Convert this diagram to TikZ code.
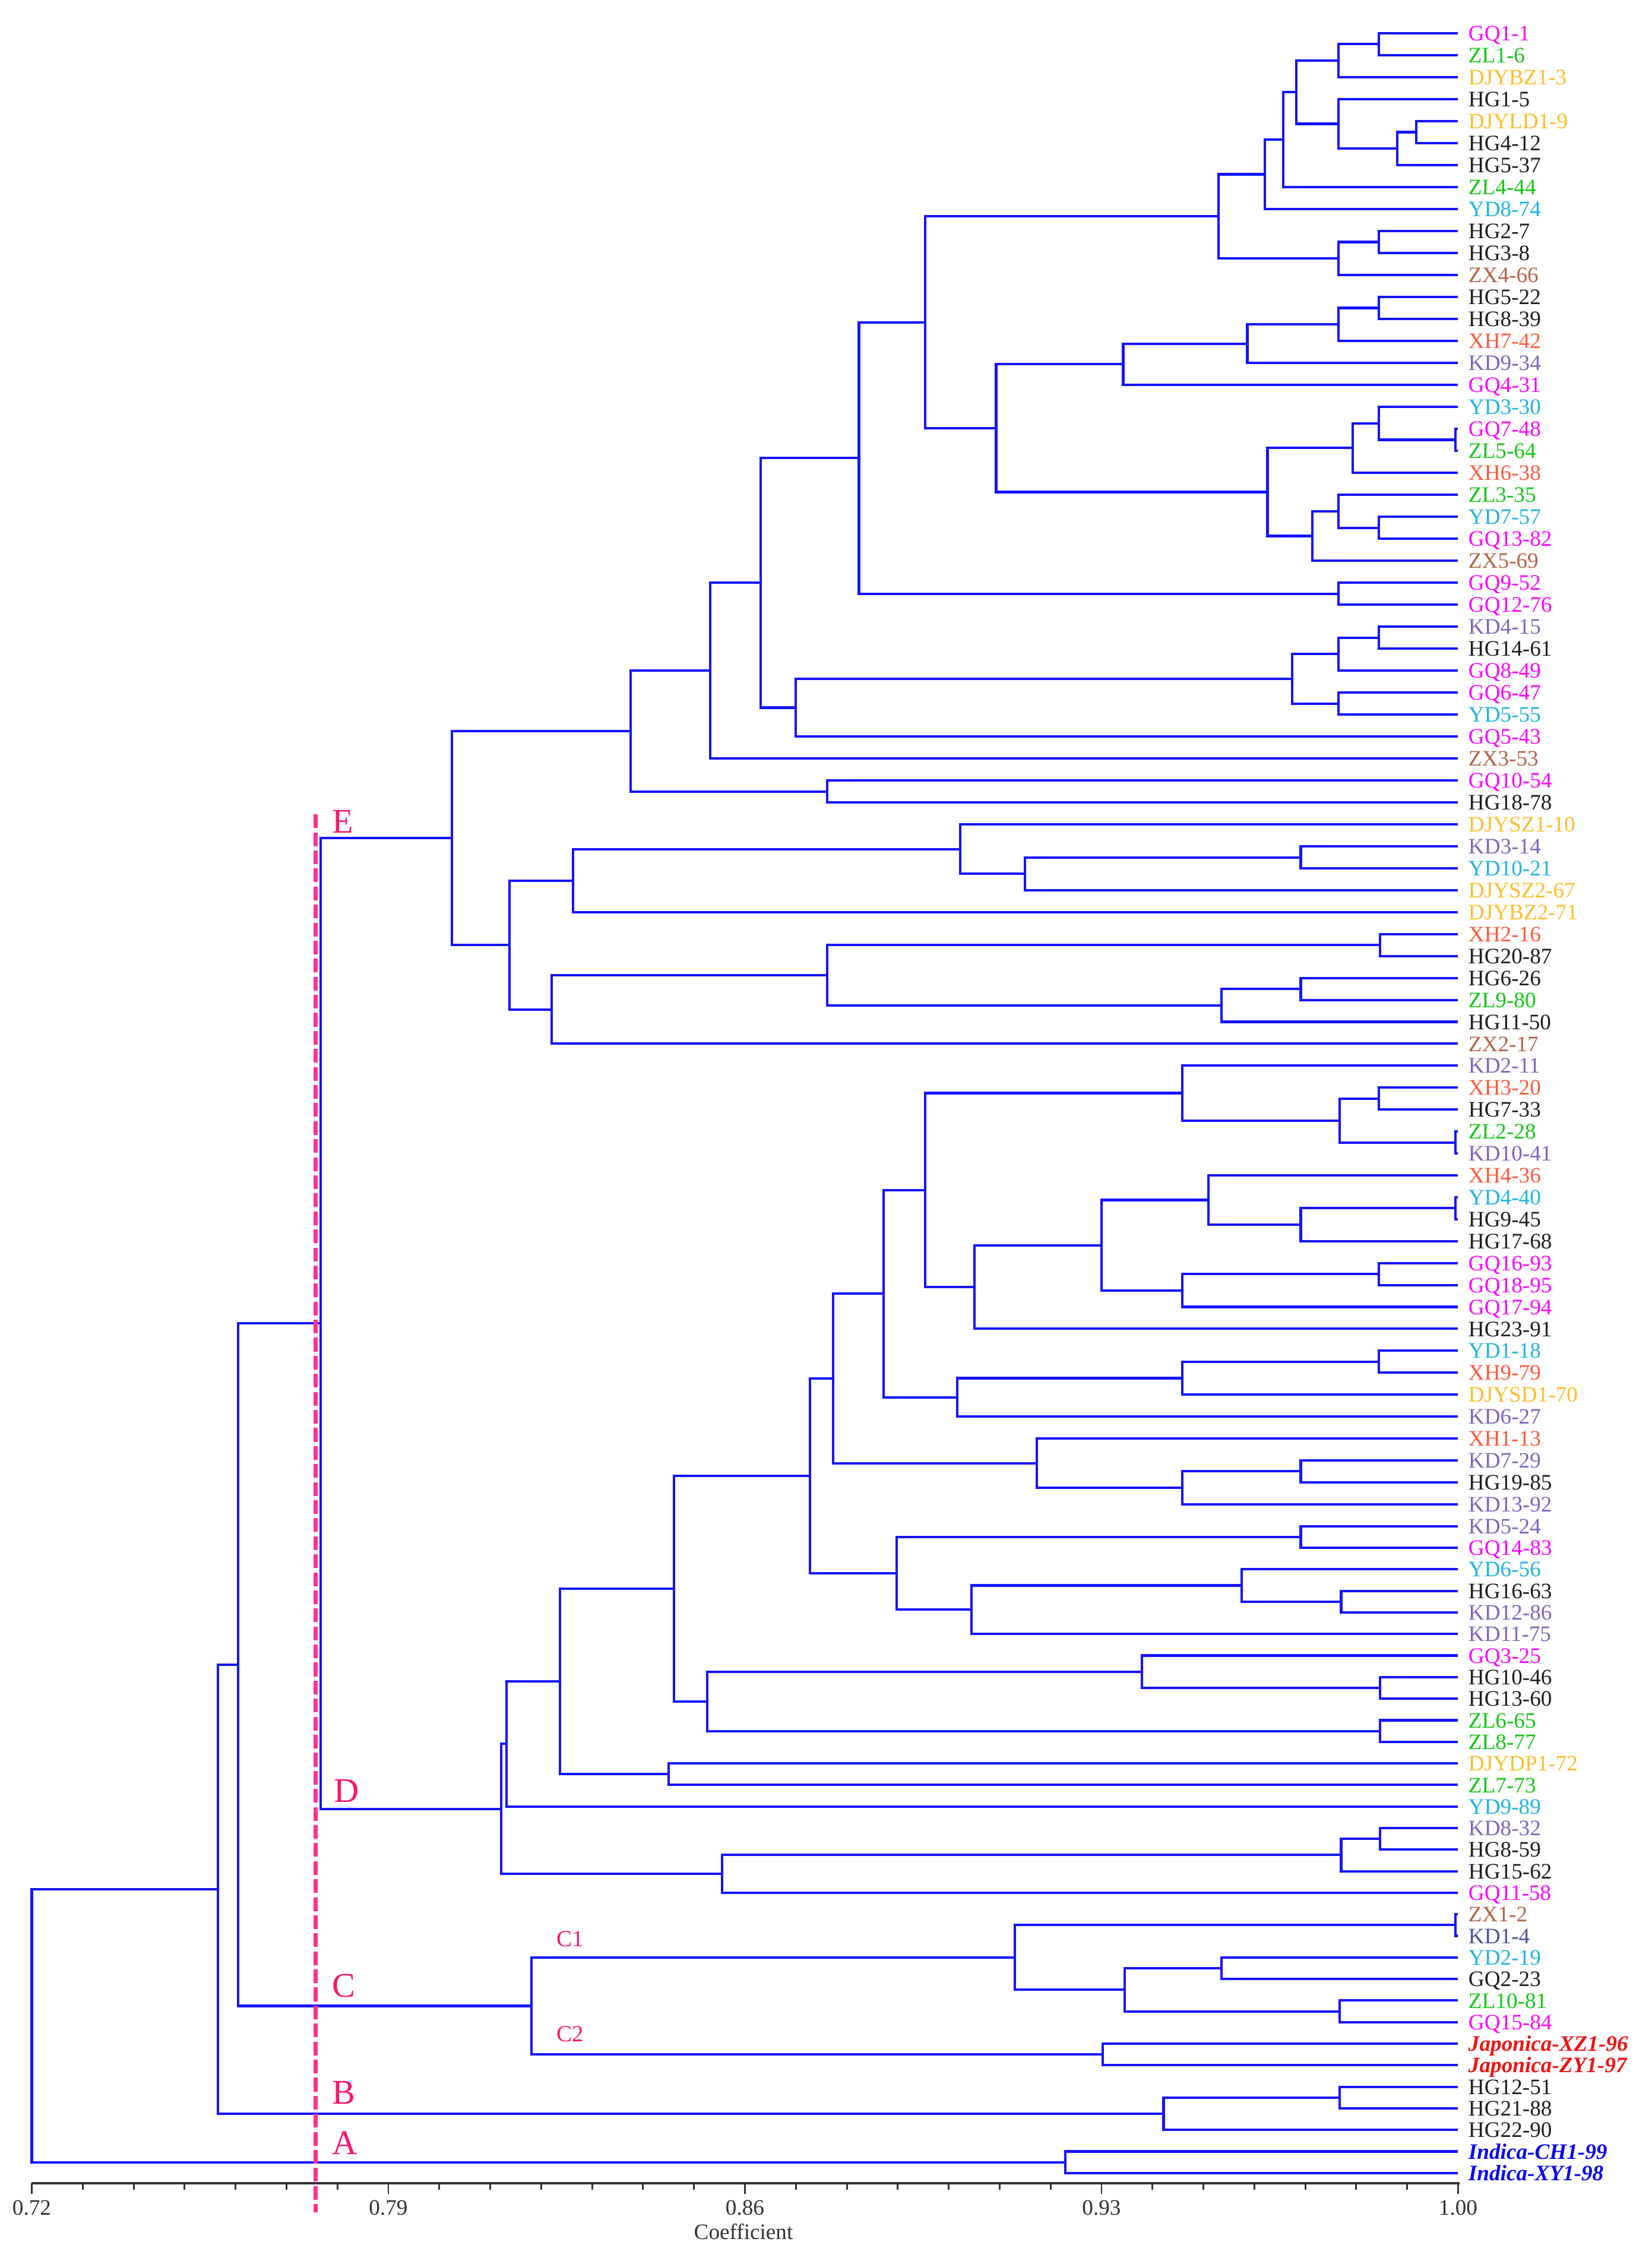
\documentclass[tikz,border=0pt]{standalone}
\usepackage{fontspec}
\setmainfont{Liberation Serif}
\usetikzlibrary{calc}
\definecolor{treeblue}{RGB}{20,20,255}
\definecolor{cmag}{RGB}{255,0,255}
\definecolor{cgrn}{RGB}{20,200,20}
\definecolor{corg}{RGB}{255,190,40}
\definecolor{ccyn}{RGB}{30,180,230}
\definecolor{cbrn}{RGB}{180,100,75}
\definecolor{ccrl}{RGB}{255,90,60}
\definecolor{cpur}{RGB}{128,100,190}
\definecolor{cpurd}{RGB}{80,80,160}
\definecolor{cblk}{RGB}{30,30,30}
\definecolor{cjap}{RGB}{240,20,20}
\definecolor{cind}{RGB}{10,10,240}
\definecolor{cpink}{RGB}{255,20,110}
\definecolor{cdash}{RGB}{255,50,140}
\definecolor{caxis}{RGB}{50,50,50}
\newcommand\jn[4]{%
  \path let \p1=($(#3)!0.5!(#4)$) in coordinate (#1) at (#2pt,\y1);
  \draw[br] (#1) |- (#3);
  \draw[br] (#1) |- (#4);}
\begin{document}
\begin{tikzpicture}[x=1pt,y=-1pt,
  br/.style={draw=treeblue,line width=1.7pt},
  leaflab/.style={anchor=base west,inner sep=0pt,yshift=-5.2pt,font=\fontsize{15.3}{16}\selectfont},
  mag/.style={text=cmag}, grn/.style={text=cgrn}, org/.style={text=corg},
  cyn/.style={text=ccyn}, brn/.style={text=cbrn}, crl/.style={text=ccrl},
  pur/.style={text=cpur}, purd/.style={text=cpurd}, blk/.style={text=cblk},
  jap/.style={text=cjap,font=\fontsize{15.3}{16}\selectfont\bfseries\itshape},
  ind/.style={text=cind,font=\fontsize{15.3}{16}\selectfont\bfseries\itshape},
  clab/.style={text=cpink,anchor=base west,inner sep=0pt,font=\fontsize{24}{26}\selectfont},
  sublab/.style={text=cpink,anchor=base west,inner sep=0pt,font=\fontsize{16}{18}\selectfont},
  ticklab/.style={text=caxis,anchor=base,inner sep=0pt,font=\fontsize{15.3}{16}\selectfont},
  dashline/.style={draw=cdash,line width=3pt,dash pattern=on 9.5pt off 3pt}
]
\fill[white] (0,0) rectangle (1144,1568);
\useasboundingbox (0,0) rectangle (1144,1568);

% leaves
\foreach \lab/\sty [count=\i] in {
GQ1-1/mag, ZL1-6/grn, DJYBZ1-3/org, HG1-5/blk, DJYLD1-9/org, HG4-12/blk, HG5-37/blk,
ZL4-44/grn, YD8-74/cyn, HG2-7/blk, HG3-8/blk, ZX4-66/brn, HG5-22/blk, HG8-39/blk,
XH7-42/crl, KD9-34/pur, GQ4-31/mag, YD3-30/cyn, GQ7-48/mag, ZL5-64/grn, XH6-38/crl,
ZL3-35/grn, YD7-57/cyn, GQ13-82/mag, ZX5-69/brn, GQ9-52/mag, GQ12-76/mag, KD4-15/pur,
HG14-61/blk, GQ8-49/mag, GQ6-47/mag, YD5-55/cyn, GQ5-43/mag, ZX3-53/brn, GQ10-54/mag,
HG18-78/blk, DJYSZ1-10/org, KD3-14/pur, YD10-21/cyn, DJYSZ2-67/org, DJYBZ2-71/org,
XH2-16/crl, HG20-87/blk, HG6-26/blk, ZL9-80/grn, HG11-50/blk, ZX2-17/brn, KD2-11/pur,
XH3-20/crl, HG7-33/blk, ZL2-28/grn, KD10-41/pur, XH4-36/crl, YD4-40/cyn, HG9-45/blk,
HG17-68/blk, GQ16-93/mag, GQ18-95/mag, GQ17-94/mag, HG23-91/blk, YD1-18/cyn, XH9-79/crl,
DJYSD1-70/org, KD6-27/pur, XH1-13/crl, KD7-29/pur, HG19-85/blk, KD13-92/pur, KD5-24/pur,
GQ14-83/mag, YD6-56/cyn, HG16-63/blk, KD12-86/pur, KD11-75/pur, GQ3-25/mag, HG10-46/blk,
HG13-60/blk, ZL6-65/grn, ZL8-77/grn, DJYDP1-72/org, ZL7-73/grn, YD9-89/cyn, KD8-32/pur,
HG8-59/blk, HG15-62/blk, GQ11-58/mag, ZX1-2/brn, KD1-4/purd, YD2-19/cyn, GQ2-23/blk,
ZL10-81/grn, GQ15-84/mag, Japonica-XZ1-96/jap, Japonica-ZY1-97/jap, HG12-51/blk,
HG21-88/blk, HG22-90/blk, Indica-CH1-99/ind, Indica-XY1-98/ind}{
  \pgfmathsetmacro\yy{\i<38 ? 23+(\i-1)*15.222 : (\i<70 ? 571+(\i-37)*15.1875 : 1057+(\i-69)*14.933)}
  \coordinate (l\i) at (1010,\yy);
  \node[leaflab,\sty] (t\i) at (1017,\yy) {\lab};
}

% cluster E
\jn{a1}{955}{l1}{l2}
\jn{a2}{927}{a1}{l3}
\jn{a3}{981}{l5}{l6}
\jn{a4}{968}{a3}{l7}
\jn{a5}{927}{l4}{a4}
\jn{a6}{898}{a2}{a5}
\jn{a7}{889}{a6}{l8}
\jn{a8}{876}{a7}{l9}
\jn{a9}{955}{l10}{l11}
\jn{a10}{927}{a9}{l12}
\jn{a11}{844}{a8}{a10}
\jn{a12}{955}{l13}{l14}
\jn{a13}{927}{a12}{l15}
\jn{a14}{864}{a13}{l16}
\jn{a15}{778}{a14}{l17}
\jn{b1}{1008}{l19}{l20}
\jn{b2}{955}{l18}{b1}
\jn{b3}{937}{b2}{l21}
\jn{b4}{955}{l23}{l24}
\jn{b5}{927}{l22}{b4}
\jn{b6}{909}{b5}{l25}
\jn{b7}{878}{b3}{b6}
\jn{n690}{690}{a15}{b7}
\jn{n641}{641}{a11}{n690}
\jn{c1}{927}{l26}{l27}
\jn{n595}{595}{n641}{c1}
\jn{c2}{955}{l28}{l29}
\jn{c3}{927}{c2}{l30}
\jn{c4}{927}{l31}{l32}
\jn{c5}{895}{c3}{c4}
\jn{c6}{551}{c5}{l33}
\jn{n527}{527}{n595}{c6}
\jn{n492}{492}{n527}{l34}
\jn{c7}{573}{l35}{l36}
\jn{n437}{437}{n492}{c7}
\jn{d1}{901}{l38}{l39}
\jn{d2}{710}{d1}{l40}
\jn{d3}{665}{l37}{d2}
\jn{d4}{397}{d3}{l41}
\jn{d5}{956}{l42}{l43}
\jn{d6}{901}{l44}{l45}
\jn{d7}{846}{d6}{l46}
\jn{d8}{573}{d5}{d7}
\jn{d9}{382}{d8}{l47}
\jn{d10}{353}{d4}{d9}
\jn{E}{313}{n437}{d10}

% cluster D
\jn{e1}{955}{l49}{l50}
\jn{e2}{1008}{l51}{l52}
\jn{e3}{928}{e1}{e2}
\jn{e4}{819}{l48}{e3}
\jn{e5}{1008}{l54}{l55}
\jn{e6}{901}{e5}{l56}
\jn{e7}{837}{l53}{e6}
\jn{e8}{955}{l57}{l58}
\jn{e9}{819}{e8}{l59}
\jn{e10}{763}{e7}{e9}
\jn{e11}{675}{e10}{l60}
\jn{e12}{641}{e4}{e11}
\jn{e13}{955}{l61}{l62}
\jn{e14}{819}{e13}{l63}
\jn{e15}{663}{e14}{l64}
\jn{e16}{612}{e12}{e15}
\jn{e17}{901}{l66}{l67}
\jn{e18}{819}{e17}{l68}
\jn{e19}{718}{l65}{e18}
\jn{e20}{577}{e16}{e19}
\jn{f1}{901}{l69}{l70}
\jn{f2}{929}{l72}{l73}
\jn{f3}{860}{l71}{f2}
\jn{f4}{673}{f3}{l74}
\jn{f5}{621}{f1}{f4}
\jn{f6}{561}{e20}{f5}
\jn{f7}{956}{l76}{l77}
\jn{f8}{791}{l75}{f7}
\jn{f9}{956}{l78}{l79}
\jn{f10}{490}{f8}{f9}
\jn{f11}{467}{f6}{f10}
\jn{f12}{463}{l80}{l81}
\jn{f13}{388}{f11}{f12}
\jn{f14}{351}{f13}{l82}
\jn{g1}{956}{l83}{l84}
\jn{g2}{929}{g1}{l85}
\jn{g3}{500}{g2}{l86}
\jn{D}{347}{f14}{g3}
\jn{ED}{222}{E}{D}

% cluster C
\jn{h1}{1008}{l87}{l88}
\jn{h2}{846}{l89}{l90}
\jn{h3}{928}{l91}{l92}
\jn{h4}{779}{h2}{h3}
\jn{Cone}{703}{h1}{h4}
\jn{Ctwo}{764}{l93}{l94}
\jn{C}{368}{Cone}{Ctwo}
\jn{CDE}{165}{ED}{C}

% cluster B, A, root
\jn{k1}{928}{l95}{l96}
\jn{B}{806}{k1}{l97}
\jn{BCDE}{151}{CDE}{B}
\jn{A}{738}{l98}{l99}
\jn{root}{22}{BCDE}{A}

% axis
\coordinate (ax0) at (22,1512);
\coordinate (ax1) at (1011,1512);
\draw[caxis,line width=1.5pt] (ax0) -- (ax1);
\foreach \k in {0,...,28}{
  \pgfmathsetmacro\xx{22+\k*35.286}
  \pgfmathsetmacro\tl{mod(\k,7)==0 ? 7.5 : 4.7}
  \coordinate (tk\k) at (\xx,1512);
  \draw[caxis,line width=1.2pt] (tk\k) -- ++(0,\tl);
}
\foreach \k/\t in {0/0.72,7/0.79,14/0.86,21/0.93,28/1.00}{
  \node[ticklab] (tl\k) at ($(tk\k)+(0,22)$) {\t};
}
\node[ticklab] (coef) at (515,1551) {Coefficient};

% dashed cut line
\coordinate (dtop) at (218.5,564);
\coordinate (dbot) at (218.5,1532);
\draw[dashline] (dtop) -- (dbot);

% cluster labels
\node[clab] (labE) at (230,577) {E};
\node[clab] (labD) at (231,1248) {D};
\node[clab] (labC) at (230,1383) {C};
\node[clab] (labB) at (230,1457) {B};
\node[clab] (labA) at (230,1492) {A};
\node[sublab] (labC1) at (385.5,1348) {C1};
\node[sublab] (labC2) at (385.5,1414) {C2};
\end{tikzpicture}
\end{document}
